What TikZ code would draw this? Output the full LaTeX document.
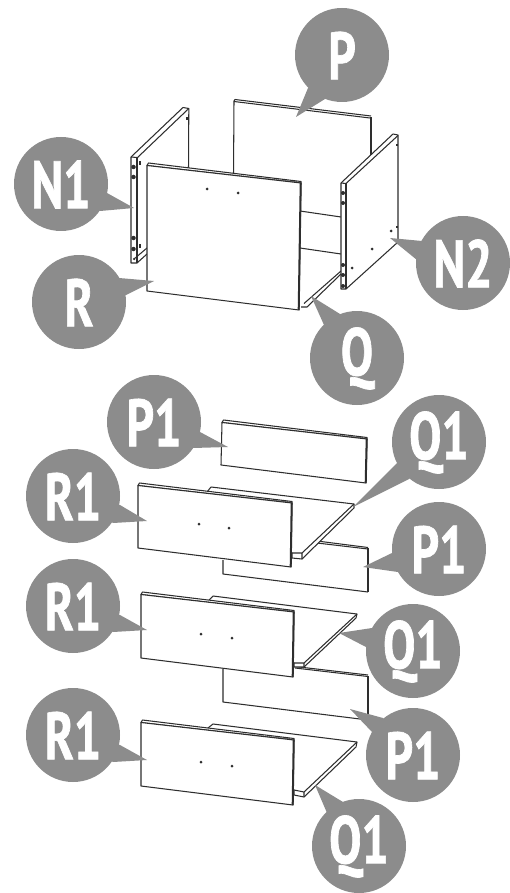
\documentclass[tikz,border=0pt]{standalone}
\usepackage{fontspec}
\setmainfont{PT Sans}
\newfontfamily\lab[FakeStretch=0.72,FakeBold=1]{PT Sans}
\usetikzlibrary{calc}
\definecolor{ink}{HTML}{2E2E2E}
\definecolor{bubble}{HTML}{8C8C8C}
\tikzset{
  part/.style={draw=ink,line width=1.05pt,fill=white,line join=round},
  edge/.style={draw=ink,line width=1.05pt,line join=round},
  blank/.style={fill=white},
  heavy/.style={draw=ink,line width=2pt},
  bubblecirc/.style={circle,fill=bubble,minimum size=94pt,inner sep=0pt,text=white,font=\lab\bfseries\fontsize{67}{67}\selectfont},
  hole/.style={fill=ink,circle,inner sep=0pt,minimum size=3pt},
  bore/.style={fill=ink,circle,inner sep=0pt,minimum size=3.6pt}
}
% panel with top strip and heavy right edge: TL, TR, BR, BL
\newcommand{\facepanel}[4]{%
  \path[part] ($#1+(1.5,-2.5)$) -- ($#2+(0,-1.5)$) -- #2 -- #1 -- cycle;
  \path[part] #1 -- #2 -- #3 -- #4 -- cycle;
  \draw[heavy] ($#2+(-.3,0)$) -- ($#3+(-.3,0)$);
}
% shelf: back-left low, back-left high, back-right top, back-right low, front top, front low, left-front top, left-front low
\newcommand{\shelfboard}[8]{%
  \path[part] #1 -- #2 -- #3 -- #4 -- #6 -- #8 -- #7 -- cycle;
  \draw[edge] #3 -- #5 -- #7 #5 -- #6;
}
\newcommand{\callout}[6]{% name, centre, text, tip, base1, base2
  \node[bubblecirc] (#1) at #2 {};
  \fill[bubble] #4 -- #5 -- #2 -- #6 -- cycle;
  \node[bubblecirc,fill=none] (#1t) at ($#2+(0,0.5)$) {#3};
}
\begin{document}
\begin{tikzpicture}[x=1pt,y=-1pt]
\useasboundingbox (0,0) rectangle (510,893);
\fill[white] (0,0) rectangle (510,893);
% --- upper carcass ---
% back panel P
\draw[edge] (233.5,175) -- (234,101) -- (235,99.5) -- (371,116);
\draw[edge] (234,101.5) -- (370,118);
\draw[heavy] (370.7,117) -- (370.7,160);
% shelf lines
\draw[edge] (300,211) -- (341,217);
\draw[edge] (300,248) -- (341,254);
\draw[edge] (301,307) -- (307,307) -- (341,274);
\draw[edge] (304,303.5) -- (341,271);
% N1
\path[blank] (131,157) -- (183,107.5) -- (188.8,108.5) -- (188.5,170) -- (150,170) -- (137,263) -- (131,263) -- cycle;
\draw[edge] (188.5,170) -- (188.8,108.5) -- (183,107.5) -- (131,157) -- (131,263) -- (137,263);
\draw[edge] (137,158) -- (188.8,108.5);
\draw[edge] (137,157.5) -- (137,263);
\draw[edge] (131,157) -- (137,157.5);
\draw[edge] (137,263) -- (147,254);
\draw[edge] (134,259) -- (147,248);
\foreach \y in {167,177,238,249} \node[bore,minimum size=4.5pt] at (133.5,\y) {};
\node[hole,minimum size=2.5pt] at (134,259) {};
\draw[ink,line width=2pt] (140,161.5) -- (140,165.5) (140,244) -- (140,248) (187,117.5) -- (187,120.5);
% R panel
\facepanel{(147,165.5)}{(301,183)}{(299,310)}{(147,291)}
\node[hole] at (207,189) {};
\node[hole] at (238,193) {};
% N2
\path[part] (341,183) -- (393,134) -- (398,135) -- (398,242) -- (346,289) -- (341,289) -- cycle;
\draw[edge] (346,183.5) -- (398,135.5);
\draw[edge] (346,183.5) -- (346,289);
\draw[edge] (341,183) -- (346,183.5);
\foreach \y in {193,203,265,275,286} \node[bore,minimum size=4pt] at (343,\y) {};
\node[hole] at (352,268) {};
\node[hole] at (372,249) {};
\node[hole] at (391,231) {};
\draw[ink,line width=2pt] (397,144) -- (397,146.5) (397,226) -- (397,228.5);
% --- lower stack ---
\facepanel{(222,422.5)}{(367,439)}{(366,483)}{(221,465)}
% P1 second
\draw[edge] (223,560) -- (223,574) -- (368,592);
\draw[edge] (317,543) -- (368,549);
\draw[edge] (317,541) -- (368,547.5);
\draw[heavy] (368,548) -- (368,592);
% shelf 1 and R1
\shelfboard{(207,492)}{(211,487)}{(354,504)}{(354,508)}{(302,553)}{(302,559)}{(292,553)}{(292,558)}
\facepanel{(138,485.5)}{(292,503)}{(291,567)}{(138,548)}
\node[hole] at (199,524) {};
\node[hole] at (229,528) {};
% P1 third
\draw[edge] (223,669) -- (223,702) -- (368,720);
\draw[edge] (295,668) -- (368,676.5);
\draw[edge] (295,666.5) -- (368,675);
\draw[heavy] (368,676) -- (368,720);
% shelf 2 and R1
\shelfboard{(208,601)}{(213,596)}{(357,614)}{(356,618)}{(304,663)}{(304,667)}{(294,663)}{(294,667)}
\facepanel{(141,594.5)}{(294,612)}{(293,677)}{(141,658)}
\node[hole] at (201,634) {};
\node[hole] at (232,638) {};
% shelf 3 and R1
\shelfboard{(208,728)}{(213,724)}{(357,742)}{(356,747)}{(304,792)}{(304,797)}{(294,790)}{(294,795)}
\facepanel{(141,722.5)}{(294,740)}{(293,805)}{(141,786)}
\node[hole] at (201,762) {};
\node[hole] at (232,766) {};
% --- callouts ---
\callout{p}{(342,55)}{P}{(296,117)}{(308,88)}{(325,99)}
\callout{na}{(61,184)}{N1}{(134,208)}{(107,193)}{(100,211)}
\callout{r}{(79,302)}{R}{(154,281)}{(119,278)}{(126,295)}
\callout{nb}{(463,263)}{N2}{(390,238)}{(422,241)}{(417,260)}
\callout{q}{(357,358)}{Q}{(311,296)}{(340,314)}{(324,325)}
\callout{pa}{(154,422)}{P1}{(228,447)}{(200,432)}{(193,448)}
\callout{qa}{(439,442)}{Q1}{(353,507)}{(397,463)}{(409,479)}
\callout{ra}{(73,496)}{R1}{(147,521)}{(120,505)}{(113,523)}
\callout{pb}{(439,549)}{P1}{(363,567)}{(392,553)}{(398,572)}
\callout{rb}{(73,606)}{R1}{(147,630)}{(120,615)}{(113,632)}
\callout{qb}{(413,651)}{Q1}{(339,633)}{(372,628)}{(366,647)}
\callout{rc}{(73,735)}{R1}{(147,760)}{(120,745)}{(113,762)}
\callout{pc}{(413,755)}{P1}{(350,709)}{(383,718)}{(373,733)}
\callout{qc}{(359,846)}{Q1}{(315,785)}{(343,802)}{(327,813)}
\end{tikzpicture}
\end{document}
